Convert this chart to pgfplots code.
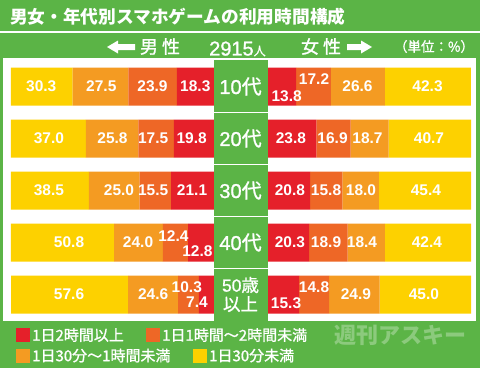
\documentclass[border=0pt]{standalone}
\usepackage{pgfplots}
\pgfplotsset{compat=1.18}
\usepackage{fontspec}
\setmainfont{Noto Sans CJK JP}
\newfontfamily\medfont[FakeBold=1.2]{Noto Sans CJK JP}
\newfontfamily\numfont{Liberation Sans}
\newfontfamily\mednum[FakeBold=1.2]{Liberation Sans}
\definecolor{bg}{HTML}{5BB446}
\definecolor{cRed}{HTML}{E5202A}
\definecolor{cOrR}{HTML}{EE6726}
\definecolor{cOr}{HTML}{F49B22}
\definecolor{cYel}{HTML}{FDD100}
\pgfplotsset{
  panel/.style={scale only axis, width=203pt, height=260pt, xmin=0, xmax=100,
    ymin=-0.5, ymax=4.5, y dir=reverse, hide axis, clip=false, anchor=south west},
  barsx/.style={panel, xbar stacked, bar width=38pt},
  labs/.style={panel, nodes near coords, point meta=explicit symbolic,
    every node near coord/.append style={anchor=center, text=white,
      font=\numfont\bfseries\fontsize{15.5}{15.5}\selectfont, inner sep=0pt}},
}
\begin{document}
\begin{tikzpicture}
\begin{scope}[x=1pt,y=1pt]
% background and panels
\fill[bg] (0,0) rectangle (480,368);
\fill[white] (0,335) rectangle (480,336.6);
\fill[white] (3,47) rectangle (476,310);
\fill[bg] (213.5,47) rectangle (268,308);
\foreach \yy in {112.5,164.5,216.5,268.5}{\fill[white] (213.5,{367.2-\yy}) rectangle (268,{368.8-\yy});}
\end{scope}
% left bars (male)
\begin{axis}[barsx, at={(11pt,47.5pt)}, x dir=reverse]
\addplot[fill=cRed, draw=none] coordinates {(18.3,0) (19.8,1) (21.1,2) (12.8,3) (7.4,4)};
\addplot[fill=cOrR, draw=none] coordinates {(23.9,0) (17.5,1) (15.5,2) (12.4,3) (10.3,4)};
\addplot[fill=cOr, draw=none] coordinates {(27.5,0) (25.8,1) (25.0,2) (24.0,3) (24.6,4)};
\addplot[fill=cYel, draw=none] coordinates {(30.3,0) (37.0,1) (38.5,2) (50.8,3) (57.6,4)};
\end{axis}
\begin{axis}[labs, at={(11pt,47.5pt)}, x dir=reverse]
\addplot[draw=none] table[x=x, y=y, meta=l] {
x y l
85.1 0 30.3
55.5 0 27.5
30.3 0 23.9
9.2 0 18.3
81.3 1 37.0
50.0 1 25.8
30.0 1 17.5
11.0 1 19.8
81.3 2 38.5
46.8 2 25.0
30.0 2 15.5
10.8 2 21.1
71.4 3 50.8
37.4 3 24.0
20.0 2.875 12.4
8.2 3.17 12.8
71.4 4 57.6
30.0 4 24.6
13.4 3.865 10.3
8.4 4.145 7.4
};
\end{axis}
% right bars (female)
\begin{axis}[barsx, at={(268pt,47.5pt)}]
\addplot[fill=cRed, draw=none] coordinates {(13.8,0) (23.8,1) (20.8,2) (20.3,3) (15.3,4)};
\addplot[fill=cOrR, draw=none] coordinates {(17.2,0) (16.9,1) (15.8,2) (18.9,3) (14.8,4)};
\addplot[fill=cOr, draw=none] coordinates {(26.6,0) (18.7,1) (18.0,2) (18.4,3) (24.9,4)};
\addplot[fill=cYel, draw=none] coordinates {(42.3,0) (40.7,1) (45.4,2) (42.4,3) (45.0,4)};
\end{axis}
\begin{axis}[labs, at={(268pt,47.5pt)}]
\addplot[draw=none] table[x=x, y=y, meta=l] {
x y l
9.2 0.18 13.8
22.7 -0.145 17.2
44.1 0 26.6
78.6 0 42.3
11.3 1 23.8
31.8 1 16.9
49.0 1 18.7
79.3 1 40.7
10.8 2 20.8
28.6 2 15.8
45.8 2 18.0
77.8 2 45.4
10.8 3 20.3
28.6 3 18.9
46.3 3 18.4
78.3 3 42.4
8.9 4.17 15.3
22.7 3.865 14.8
43.3 4 24.9
76.8 4 45.0
};
\end{axis}
\begin{scope}[x=1pt,y=1pt]
% center category labels
\foreach \num/\yy in {10/281.5, 20/229.5, 30/177.5, 40/125.5}{
  \node[text=white, inner sep=0, font=\medfont\fontsize{20}{20}\selectfont] at (240.5,\yy) {{\mednum\num}代};}
\node[text=white, inner sep=0, align=center, font=\medfont\fontsize{17.5}{19}\selectfont] at (240.5,73.5) {{\mednum 50}歳\\以上};
% title
\node[anchor=west, inner sep=0, text=white, font=\bfseries\fontsize{17.7}{17.7}\selectfont] at (10,351) {男女・年代別スマホゲームの利用時間構成};
% subtitle
\fill[white] (107,321) -- (118,327.5) -- (118,324) -- (135,324) -- (135,318) -- (118,318) -- (118,314.5) -- cycle;
\fill[white] (372,321) -- (361,327.5) -- (361,324) -- (347,324) -- (347,318) -- (361,318) -- (361,314.5) -- cycle;
\node[text=white, inner sep=0, font=\medfont\fontsize{18}{18}\selectfont] at (160,321.5) {男\hspace{4pt}性};
\node[text=white, inner sep=0, anchor=base west, font=\medfont\fontsize{20}{20}\selectfont] at (209,312.5) {{\mednum 2915}{\fontsize{12}{12}\selectfont 人}};
\node[text=white, inner sep=0, font=\medfont\fontsize{18}{18}\selectfont] at (321,321.5) {女\hspace{4pt}性};
\node[text=white, inner sep=0, font=\medfont\fontsize{13.5}{13.5}\selectfont] at (434,321.5) {（単位：\%）};
% legend
\node[anchor=west, inner sep=0, text=white, font=\medfont\fontsize{15}{15}\selectfont] at (16,33) {\textcolor{cRed}{\rule[-1.3pt]{14pt}{14pt}}\hspace{2pt}1日2時間以上};
\node[anchor=west, inner sep=0, text=white, font=\medfont\fontsize{15}{15}\selectfont] at (146,33) {\textcolor{cOrR}{\rule[-1.3pt]{14pt}{14pt}}\hspace{2pt}1日1時間～2時間未満};
\node[anchor=west, inner sep=0, text=white, font=\medfont\fontsize{15}{15}\selectfont] at (16,12.5) {\textcolor{cOr}{\rule[-1.3pt]{14pt}{14pt}}\hspace{2pt}1日30分～1時間未満};
\node[anchor=west, inner sep=0, text=white, font=\medfont\fontsize{15}{15}\selectfont] at (193,12.5) {\textcolor{cYel}{\rule[-1.3pt]{14pt}{14pt}}\hspace{2pt}1日30分未満};
% watermark
\node[inner sep=0, text=white, text opacity=0.3, font=\bfseries\fontsize{22}{22}\selectfont] at (400,32.5) {週刊アスキー};
\end{scope}
\end{tikzpicture}
\end{document}
